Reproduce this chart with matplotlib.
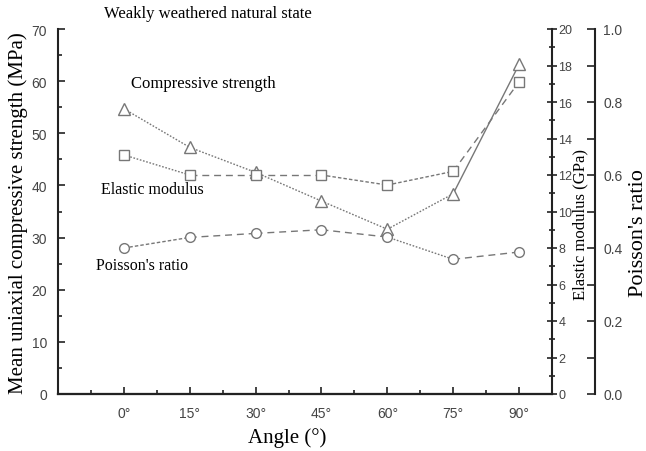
import matplotlib; matplotlib.use("Agg")
import matplotlib.pyplot as plt
from matplotlib.ticker import MultipleLocator, FixedLocator

angles = [0, 15, 30, 45, 60, 75, 90]
angle_labels = ["0°", "15°", "30°", "45°", "60°", "75°", "90°"]
strength = [54.7, 47.3, 42.5, 37.0, 31.6, 38.4, 63.2]      # MPa, left axis
modulus = [13.1, 12.0, 12.0, 12.0, 11.45, 12.2, 17.1]      # GPa, right axis
poisson = [0.40, 0.429, 0.44, 0.45, 0.43, 0.369, 0.389]    # outer right axis

# segment line styles between consecutive points
DOT = (0, (1.2, 1.2)); DASH = (0, (5, 3.5)); SDASH = (0, (2.5, 1.5)); SOLID = "-"
seg_strength = [DOT, DOT, DOT, DOT, DOT, SOLID]
seg_modulus = [DOT, DASH, DASH, SDASH, SDASH, DASH]
seg_poisson = [SDASH, DASH, DASH, DASH, DOT, DASH]

serif = "Liberation Serif"
sans = "Liberation Sans"
tick_col = "#444444"
line_col = "#777777"

fig = plt.figure(figsize=(6.46, 4.52), dpi=100)
ax = fig.add_axes([58/646, 1-395/452, (552-58)/646, (395-30)/452])
ax2 = ax.twinx()
ax3 = ax.twinx()
ax3.spines["right"].set_position(("axes", (595-58)/(552-58)))

def draw(a, x, y, segs, marker, ms):
    for i, ls in enumerate(segs):
        a.plot(x[i:i+2], y[i:i+2], color=line_col, lw=1.0, ls=ls, zorder=2)
    a.plot(x, y, ls="none", marker=marker, ms=ms, mfc="white", mec=line_col, mew=1.0, zorder=3)

draw(ax, angles, strength, seg_strength, "^", 8)
draw(ax2, angles, modulus, seg_modulus, "s", 7)
draw(ax3, angles, poisson, seg_poisson, "o", 7)

ax.set_xlim(-15, 97.5)
ax.set_ylim(0, 70)
ax2.set_ylim(0, 20)
ax3.set_ylim(0, 1.0)

for a in (ax, ax2, ax3):
    a.spines["top"].set_visible(False)
    for s in a.spines.values():
        s.set_linewidth(1.5)
        s.set_color("#222222")

ax.spines["right"].set_visible(False)
ax3.spines["left"].set_visible(False)
ax2.spines["left"].set_visible(False)

ax.xaxis.set_major_locator(FixedLocator(angles))
ax.set_xticklabels(angle_labels)
ax.xaxis.set_minor_locator(MultipleLocator(7.5))
ax.yaxis.set_major_locator(MultipleLocator(10))
ax.yaxis.set_minor_locator(MultipleLocator(5))
ax.tick_params(which="both", direction="in", colors="#222222", labelcolor=tick_col, width=1.2)
ax.tick_params(which="major", length=5, labelsize=10)
ax.tick_params(axis="x", which="major", pad=9)
ax.tick_params(axis="y", which="major", pad=8)
ax.tick_params(which="minor", length=3)
for lab in ax.get_xticklabels() + ax.get_yticklabels():
    lab.set_fontfamily(sans)

ax2.yaxis.set_major_locator(MultipleLocator(2))
ax2.yaxis.set_minor_locator(MultipleLocator(1))
ax2.tick_params(which="both", direction="inout", colors="#222222", labelcolor=tick_col, width=1.2, pad=1)
ax2.tick_params(which="major", length=7, labelsize=9)
ax2.tick_params(which="minor", length=4)
for lab in ax2.get_yticklabels():
    lab.set_fontfamily(sans)

ax3.yaxis.set_major_locator(MultipleLocator(0.2))
ax3.yaxis.set_minor_locator(MultipleLocator(0.1))
ax3.yaxis.set_major_formatter(plt.FormatStrFormatter("%.1f"))
ax3.tick_params(which="both", direction="in", colors="#222222", labelcolor=tick_col, width=1.2)
ax3.tick_params(which="major", length=6, labelsize=10, pad=6)
ax3.tick_params(which="minor", length=6)
for lab in ax3.get_yticklabels():
    lab.set_fontfamily(sans)

ax.set_ylabel("Mean uniaxial compressive strength (MPa)", fontfamily=serif, fontsize=15)
ax.yaxis.set_label_coords((18-58)/494, (395-213)/365)
ax.set_xlabel("Angle (°)", fontfamily=serif, fontsize=15)
ax.xaxis.set_label_coords((287-58)/494, -(438-395)/365)
ax2.set_ylabel("Elastic modulus (GPa)", fontfamily=serif, fontsize=12, rotation=90)
ax2.yaxis.set_label_coords((580-58)/494, (395-225)/365)
ax3.set_ylabel("Poisson's ratio", fontfamily=serif, fontsize=16, rotation=90)
ax3.yaxis.set_label_coords((638-58)/494, (395-233)/365)
for lbl in (ax.yaxis.label, ax.xaxis.label, ax2.yaxis.label, ax3.yaxis.label):
    lbl.set_va("center"); lbl.set_ha("center")

fig.text(104/646, 1-14/452, "Weakly weathered natural state", fontfamily=serif, fontsize=12, va="center")
fig.text(131/646, 1-84/452, "Compressive strength", fontfamily=serif, fontsize=12, va="center")
fig.text(101/646, 1-190/452, "Elastic modulus", fontfamily=serif, fontsize=11.5, va="center")
fig.text(96/646, 1-266/452, "Poisson's ratio", fontfamily=serif, fontsize=11.5, va="center")

fig.savefig("out.png", dpi=100)
